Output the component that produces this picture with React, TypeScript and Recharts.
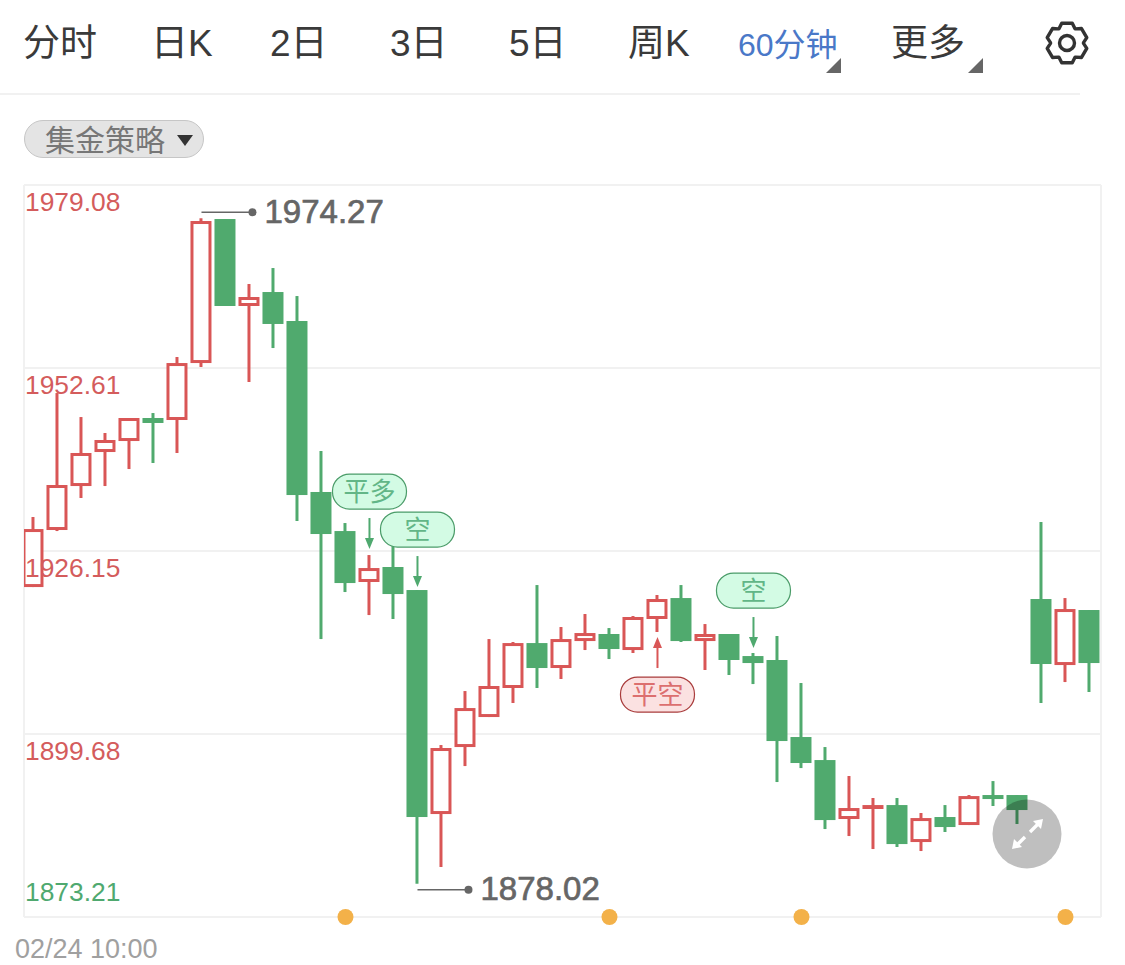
import { Bar, CartesianGrid, ComposedChart, ReferenceDot, XAxis, YAxis } from 'recharts'

/* ── Data ───────────────────────────────────────────────────────────── */

const OPENS = [
  1920.93, 1929.18, 1935.54, 1940.46, 1942.05, 1945.38, 1945.09, 1953.33, 1974.16, 1961.58, 1963.6, 1959.41, 1934.68,
  1929.03, 1921.66, 1923.83, 1920.5, 1888.1, 1897.79, 1902.13, 1906.33, 1912.83, 1909.22, 1913.12, 1914.14, 1911.82,
  1916.31, 1919.34, 1913.12, 1914.14, 1910.95, 1910.38, 1899.24, 1895.91, 1887.38, 1888.83, 1889.4, 1884.05, 1887.67,
  1886.51, 1890.85, 1890.85, 1919.2, 1909.65, 1917.61,
]
const CLOSES = [
  1929.32, 1935.69, 1940.32, 1942.2, 1945.38, 1944.66, 1953.33, 1973.87, 1961.58, 1962.88, 1958.98, 1934.24, 1928.6,
  1921.51, 1923.68, 1919.92, 1887.67, 1897.65, 1903.43, 1906.62, 1912.83, 1909.22, 1913.41, 1914.28, 1911.97, 1916.6,
  1919.2, 1913.12, 1914.14, 1910.38, 1909.94, 1898.66, 1895.48, 1887.23, 1888.97, 1889.4, 1883.76, 1887.52, 1886.22,
  1890.7, 1890.27, 1888.68, 1909.8, 1917.75, 1909.94,
]
const HIGHS = [
  1931.06, 1948.99, 1945.52, 1943.21, 1945.38, 1946.1, 1954.2, 1974.27, 1974.16, 1964.76, 1967.07, 1963.02, 1940.61,
  1930.19, 1925.56, 1927.01, 1920.5, 1898.08, 1905.89, 1913.41, 1912.98, 1921.22, 1915.15, 1917.03, 1915.0, 1916.74,
  1919.78, 1921.22, 1915.58, 1914.14, 1911.39, 1913.85, 1907.05, 1897.79, 1893.6, 1890.42, 1890.42, 1888.25, 1889.4,
  1890.85, 1892.87, 1890.85, 1930.34, 1919.34, 1917.61,
]
const LOWS = [
  1920.93, 1929.03, 1933.81, 1935.54, 1938.0, 1938.87, 1940.32, 1952.76, 1961.58, 1950.59, 1955.5, 1930.48, 1913.41,
  1920.21, 1916.88, 1916.31, 1878.02, 1880.44, 1895.04, 1902.13, 1904.16, 1906.33, 1907.63, 1911.82, 1910.52, 1911.39,
  1914.43, 1912.98, 1908.93, 1908.21, 1906.9, 1892.73, 1894.75, 1885.93, 1884.92, 1883.04, 1883.33, 1882.75, 1885.5,
  1886.51, 1889.26, 1886.66, 1904.16, 1907.19, 1905.75,
]

const Y_TICKS = [1979.08, 1952.61, 1926.15, 1899.68, 1873.21]
const FIRST_LABEL = '02/24 10:00'
const EVENT_SLOTS = [13, 24, 32, 43]
const TABS = ['分时', '日K', '2日', '3日', '5日', '周K']

const SIGNALS = [
  { slot: 14, tip: 1926.43, text: '平多', dir: 'down' },
  { slot: 16, tip: 1920.93, text: '空', dir: 'down' },
  { slot: 30, tip: 1912.11, text: '空', dir: 'down' },
  { slot: 26, tip: 1913.7, text: '平空', dir: 'up' },
]

const RED = '#d95656'
const GREEN = '#50aa6e'
const GRID = '#f1f1f1'
const CJK = '"Liberation Sans", "Noto Sans CJK SC", sans-serif'

const rows = OPENS.map((open, slot) => ({
  slot,
  open,
  close: CLOSES[slot],
  high: HIGHS[slot],
  low: LOWS[slot],
  range: [LOWS[slot], HIGHS[slot]],
}))
const slots = rows.map((r) => r.slot)

/* ── Candle: wick plus body, clipped to the plot ────────────────────── */

function Candle(props: any) {
  const { x, y, width, height, payload } = props
  const { open, close, high, low } = payload
  const perUnit = height / (high - low || 1)
  const cx = x + width / 2
  const top = y + (high - Math.max(open, close)) * perUnit
  const bottom = y + (high - Math.min(open, close)) * perUnit
  const rising = close >= open
  const color = rising ? RED : GREEN
  return (
    <g clipPath="url(#plot-clip)">
      <line x1={cx} x2={cx} y1={y} y2={y + height} stroke={color} strokeWidth={3} />
      {rising ? (
        <rect
          x={x + 1.5}
          y={top + 1.5}
          width={width - 3}
          height={Math.max(bottom - top - 3, 0)}
          fill="#fff"
          stroke={color}
          strokeWidth={3}
        />
      ) : (
        <rect x={x} y={top} width={width} height={Math.max(bottom - top, 3)} fill={color} />
      )}
    </g>
  )
}

/* ── Signal pill with arrow ─────────────────────────────────────────── */

function Signal({ cx, cy, text, dir }: any) {
  const down = dir === 'down'
  const color = down ? '#4fa96f' : '#d95656'
  const sign = down ? -1 : 1
  const tail = cy + sign * 31
  const pillY = down ? tail - 44 : tail + 9
  return (
    <g>
      <line x1={cx} x2={cx} y1={tail} y2={cy + sign * 8} stroke={color} strokeWidth={2} />
      <path d={`M${cx} ${cy} L${cx - 4.5} ${cy + sign * 11} L${cx + 4.5} ${cy + sign * 11} Z`} fill={color} />
      <rect
        x={cx - 37}
        y={pillY}
        width={74}
        height={35}
        rx={17}
        fill={down ? '#d3fbe4' : '#fbe1e1'}
        stroke={down ? '#4b9c69' : '#a93c3c'}
        strokeWidth={1.2}
      />
      <text
        x={cx}
        y={pillY + 18}
        textAnchor="middle"
        dominantBaseline="central"
        fontSize={26}
        fontFamily={CJK}
        fill={down ? '#62b687' : '#dc6f6f'}
      >
        {text}
      </text>
    </g>
  )
}

/* ── High / low call-out ────────────────────────────────────────────── */

function Extreme({ cx, cy, lift, text }: any) {
  const ly = cy + lift
  return (
    <g>
      <line x1={cx} x2={cx + 51} y1={ly} y2={ly} stroke="#666" strokeWidth={1.4} />
      <circle cx={cx + 51} cy={ly} r={4} fill="#666" />
      <text
        x={cx + 63}
        y={ly - 1}
        dominantBaseline="central"
        fontSize={33}
        fill="#666"
        stroke="#666"
        strokeWidth={0.7}
      >
        {text}
      </text>
    </g>
  )
}

function PriceTick({ y, payload, index }: any) {
  const last = index === Y_TICKS.length - 1
  return (
    <text
      x={25}
      y={y + (last ? -25 : 17)}
      dominantBaseline="central"
      fontSize={26.4}
      fill={last ? '#4fa96f' : '#d45c5c'}
    >
      {payload.value.toFixed(2)}
    </text>
  )
}

function TimeTick({ y, index }: any) {
  if (index !== 0) return null
  return (
    <text x={15} y={y + 24} dominantBaseline="central" fontSize={27} fill="#a0a0a0">
      {FIRST_LABEL}
    </text>
  )
}

/* ── Toolbar bits ───────────────────────────────────────────────────── */

const TAB_LEFT = [23, 151, 270, 390, 509, 628]

function Gear() {
  const pts: string[] = []
  for (let k = 0; k < 6; k++) {
    const a = (Math.PI / 3) * k - Math.PI / 2
    const at = (r: number, d: number) =>
      `${(24 + r * Math.cos(a + d)).toFixed(2)} ${(24 + r * Math.sin(a + d)).toFixed(2)}`
    pts.push(at(16.5, -0.5), at(20.5, -0.26), at(20.5, 0.26), at(16.5, 0.5))
  }
  return (
    <svg width={48} height={48} style={{ position: 'absolute', left: 1043, top: 19 }}>
      <path
        d={`M${pts.join(' L')} Z`}
        fill="none"
        stroke="#333"
        strokeWidth={3.4}
        strokeLinejoin="round"
      />
      <circle cx={24} cy={24} r={7.5} fill="none" stroke="#333" strokeWidth={3.4} />
    </svg>
  )
}

function Corner({ left }: { left: number }) {
  return (
    <svg width={15} height={15} style={{ position: 'absolute', left, top: 58 }}>
      <path d="M0 15 L15 0 L15 15 Z" fill="#666" />
    </svg>
  )
}

function ExpandButton() {
  return (
    <svg width={70} height={70} style={{ position: 'absolute', left: 992, top: 799 }}>
      <circle cx={35} cy={35} r={34.5} fill="rgba(0,0,0,0.25)" />
      <g stroke="#fff" strokeWidth={3.4}>
        <line x1={38} y1={33} x2={47} y2={24} />
        <line x1={33} y1={38} x2={24} y2={47} />
      </g>
      <path d="M51 20 L41 22 L49 30 Z" fill="#fff" />
      <path d="M20 50 L30 48 L22 40 Z" fill="#fff" />
    </svg>
  )
}

/* ── Component ──────────────────────────────────────────────────────── */

export default function App() {
  return (
    <div
      style={{
        position: 'absolute',
        left: 0,
        top: 0,
        width: 1125,
        height: 965,
        overflow: 'hidden',
        background: '#fff',
        fontFamily: CJK,
      }}
    >
      {TABS.map((t, i) => (
        <div
          key={t}
          style={{ position: 'absolute', left: TAB_LEFT[i], top: 20, fontSize: 37, lineHeight: '48px', color: '#3a3a3a' }}
        >
          {t}
        </div>
      ))}
      <div style={{ position: 'absolute', left: 738, top: 24, fontSize: 32, lineHeight: '42px', color: '#4a78c8' }}>
        60分钟
      </div>
      <div style={{ position: 'absolute', left: 891, top: 20, fontSize: 37, lineHeight: '48px', color: '#3a3a3a' }}>
        更多
      </div>
      <Corner left={826} />
      <Corner left={968} />
      <Gear />
      <div style={{ position: 'absolute', left: 0, top: 93, width: 1080, height: 2, background: GRID }} />

      <div
        style={{
          position: 'absolute',
          left: 24,
          top: 120,
          width: 178,
          height: 36,
          borderRadius: 19,
          background: '#e4e4e4',
          border: '1px solid #c6c6c6',
        }}
      />
      <div style={{ position: 'absolute', left: 45, top: 122, fontSize: 30, lineHeight: '38px', color: '#777' }}>
        集金策略
      </div>
      <svg width={16} height={12} style={{ position: 'absolute', left: 177, top: 135 }}>
        <path d="M0 0 L16 0 L8 11 Z" fill="#333" />
      </svg>

      <div style={{ position: 'absolute', left: 0, top: 0 }}>
        <ComposedChart
          width={1125}
          height={965}
          data={rows}
          margin={{ top: 185, right: 24, bottom: 0, left: 23 }}
          style={{ fontFamily: CJK }}
        >
          <defs>
            <clipPath id="plot-clip">
              <rect x={24} y={185} width={1077} height={732} />
            </clipPath>
          </defs>
          <CartesianGrid
            stroke={GRID}
            strokeWidth={2}
            verticalCoordinatesGenerator={({ offset }: any) => [offset.left, offset.left + offset.width]}
          />
          <XAxis
            type="number"
            dataKey="slot"
            domain={[-0.395, 44.48]}
            ticks={slots}
            interval={0}
            height={48}
            axisLine={false}
            tickLine={false}
            tick={<TimeTick />}
          />
          <YAxis
            width={1}
            domain={[1873.21, 1979.08]}
            ticks={Y_TICKS}
            axisLine={false}
            tickLine={false}
            interval={0}
            tick={<PriceTick />}
          />
          <Bar dataKey="range" barSize={21} shape={<Candle />} isAnimationActive={false} />
          {EVENT_SLOTS.map((s) => (
            <ReferenceDot key={s} x={s} y={Y_TICKS[4]} r={8} fill="#f3b149" stroke="none" ifOverflow="visible" />
          ))}
          {SIGNALS.map((s) => (
            <ReferenceDot
              key={s.slot}
              x={s.slot}
              y={s.tip}
              ifOverflow="visible"
              shape={(p: any) => <Signal cx={p.cx} cy={p.cy} text={s.text} dir={s.dir} />}
            />
          ))}
          <ReferenceDot
            x={7}
            y={HIGHS[7]}
            ifOverflow="visible"
            shape={(p: any) => <Extreme cx={p.cx} cy={p.cy} lift={-6} text={HIGHS[7].toFixed(2)} />}
          />
          <ReferenceDot
            x={16}
            y={LOWS[16]}
            ifOverflow="visible"
            shape={(p: any) => <Extreme cx={p.cx} cy={p.cy} lift={6} text={LOWS[16].toFixed(2)} />}
          />
        </ComposedChart>
      </div>
      <ExpandButton />
    </div>
  )
}
